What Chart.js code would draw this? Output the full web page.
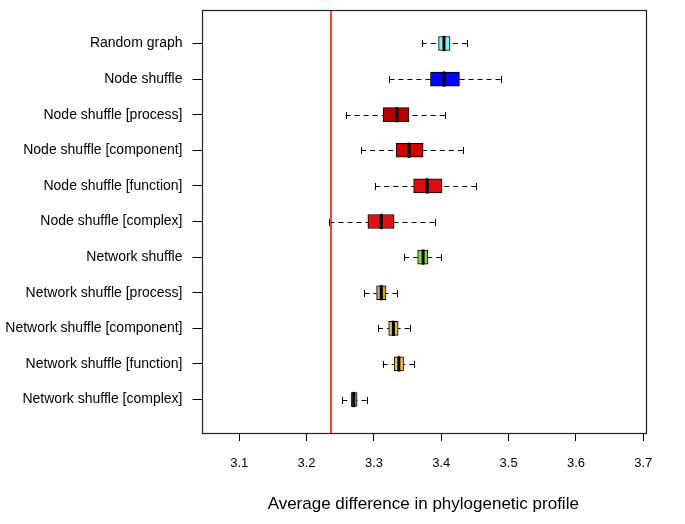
<!DOCTYPE html>
<html>
<head>
<meta charset="utf-8">
<script src="https://cdn.jsdelivr.net/npm/chart.js@4.4.1/dist/chart.umd.min.js"></script>
<style>
html,body{margin:0;padding:0;background:#fff;}
#wrap{width:685px;height:524px;position:relative;}
</style>
</head>
<body>
<div id="wrap"><canvas id="c" width="685" height="524"></canvas></div>
<script>
const categories = [
  "Random graph",
  "Node shuffle",
  "Node shuffle [process]",
  "Node shuffle [component]",
  "Node shuffle [function]",
  "Node shuffle [complex]",
  "Network shuffle",
  "Network shuffle [process]",
  "Network shuffle [component]",
  "Network shuffle [function]",
  "Network shuffle [complex]"
];
const whiskerLow  = [3.371, 3.323, 3.258, 3.281, 3.302, 3.234, 3.345, 3.286, 3.306, 3.313, 3.253];
const q1          = [3.396, 3.384, 3.314, 3.333, 3.359, 3.291, 3.365, 3.304, 3.322, 3.330, 3.266];
const median      = [3.404, 3.404, 3.334, 3.352, 3.379, 3.311, 3.373, 3.311, 3.329, 3.337, 3.270];
const q3          = [3.413, 3.427, 3.352, 3.373, 3.401, 3.330, 3.380, 3.318, 3.336, 3.344, 3.275];
const whiskerHigh = [3.438, 3.488, 3.405, 3.432, 3.452, 3.390, 3.400, 3.335, 3.353, 3.360, 3.289];
const boxColors = ["#80F2F2", "#0000FF", "#B30000", "#CF0000", "#DB0F0F", "#DE1212",
                   "#7ED93A", "#C9A93C", "#D9B843", "#E6C24C", "#BFA03E"];
const xTicks = [3.1, 3.2, 3.3, 3.4, 3.5, 3.6, 3.7];
const referenceValue = 3.237;
const xTitle = "Average difference in phylogenetic profile";

const positions = categories.map((_, i) => i + 1);

const boxPlugin = {
  id: 'boxParts',
  beforeDatasetsDraw(chart) {
    const ctx = chart.ctx, xs = chart.scales.x, ys = chart.scales.y;
    ctx.save();
    ctx.strokeStyle = '#000';
    ctx.lineWidth = 1;
    const capHalf = Math.abs(ys.getPixelForValue(0.1) - ys.getPixelForValue(0));
    positions.forEach((p, i) => {
      const y = Math.round(ys.getPixelForValue(p)) + 0.5;
      const xl = xs.getPixelForValue(whiskerLow[i]);
      const xq1 = xs.getPixelForValue(q1[i]);
      const xq3 = xs.getPixelForValue(q3[i]);
      const xh = xs.getPixelForValue(whiskerHigh[i]);
      ctx.setLineDash([5, 4]);
      ctx.beginPath();
      ctx.moveTo(xl, y); ctx.lineTo(xq1, y);
      ctx.moveTo(xh, y); ctx.lineTo(xq3, y);
      ctx.stroke();
      ctx.setLineDash([]);
      ctx.beginPath();
      ctx.moveTo(Math.round(xl) + 0.5, y - capHalf); ctx.lineTo(Math.round(xl) + 0.5, y + capHalf);
      ctx.moveTo(Math.round(xh) + 0.5, y - capHalf); ctx.lineTo(Math.round(xh) + 0.5, y + capHalf);
      ctx.stroke();
    });
    ctx.restore();
  },
  afterDatasetsDraw(chart) {
    const ctx = chart.ctx, xs = chart.scales.x, ys = chart.scales.y, a = chart.chartArea;
    ctx.save();
    const half = Math.abs(ys.getPixelForValue(0.4) - ys.getPixelForValue(0)) / 2 + 0.5;
    ctx.strokeStyle = '#000';
    ctx.lineWidth = 3;
    ctx.lineCap = 'butt';
    positions.forEach((p, i) => {
      const y = ys.getPixelForValue(p);
      const xm = xs.getPixelForValue(median[i]);
      ctx.beginPath();
      ctx.moveTo(xm, y - half); ctx.lineTo(xm, y + half);
      ctx.stroke();
    });
    // reference line
    const xr = Math.round(xs.getPixelForValue(referenceValue));
    ctx.strokeStyle = '#FF1010';
    ctx.lineWidth = 1.6;
    ctx.beginPath();
    ctx.moveTo(xr, a.top); ctx.lineTo(xr, a.bottom);
    ctx.stroke();
    // frame
    ctx.strokeStyle = '#222';
    ctx.lineWidth = 1.2;
    ctx.strokeRect(Math.round(a.left) + 0.5, Math.round(a.top) + 0.5,
                   Math.round(a.right - a.left), Math.round(a.bottom - a.top));
    ctx.restore();
  }
};

new Chart(document.getElementById('c'), {
  type: 'bar',
  data: {
    datasets: [{
      data: positions.map((p, i) => ({ y: p, x: [q1[i], q3[i]] })),
      backgroundColor: boxColors,
      borderColor: '#000',
      borderWidth: 1,
      borderSkipped: false,
      barThickness: 14
    }]
  },
  options: {
    indexAxis: 'y',
    responsive: false,
    animation: false,
    devicePixelRatio: 1,
    layout: { padding: { left: 0, top: 10, right: 40, bottom: 0 } },
    plugins: { legend: { display: false }, tooltip: { enabled: false } },
    scales: {
      x: {
        type: 'linear',
        min: 3.044,
        max: 3.7025,
        offset: false,
        afterBuildTicks: s => { s.ticks = xTicks.map(v => ({ value: v })); },
        afterFit: s => { s.height = 91; s.paddingLeft = 0; s.paddingRight = 0; },
        grid: { offset: false, drawOnChartArea: false, drawTicks: true, tickLength: 8, color: '#000', tickWidth: 1 },
        border: { display: false },
        ticks: { color: '#000', padding: 15, maxRotation: 0, autoSkip: false,
                 font: { family: 'Liberation Sans, Arial, sans-serif', size: 13 },
                 callback: v => v.toFixed(1) },
        title: { display: true, text: xTitle, color: '#000',
                 font: { family: 'Liberation Sans, Arial, sans-serif', size: 17 },
                 padding: { top: 0, bottom: 9 } }
      },
      y: {
        type: 'linear',
        reverse: true,
        min: 0.06,
        max: 11.94,
        offset: false,
        afterBuildTicks: s => { s.ticks = positions.map(v => ({ value: v })); },
        afterFit: s => { s.width = 201.5; s.paddingTop = 0; s.paddingBottom = 0; },
        grid: { offset: false, drawOnChartArea: false, drawTicks: true, tickLength: 9, color: '#000', tickWidth: 1 },
        border: { display: false },
        ticks: { color: '#000', padding: 10, autoSkip: false,
                 font: { family: 'Liberation Sans, Arial, sans-serif', size: 14 },
                 callback: v => categories[Math.round(v) - 1] }
      }
    }
  },
  plugins: [boxPlugin]
});
</script>
</body>
</html>
